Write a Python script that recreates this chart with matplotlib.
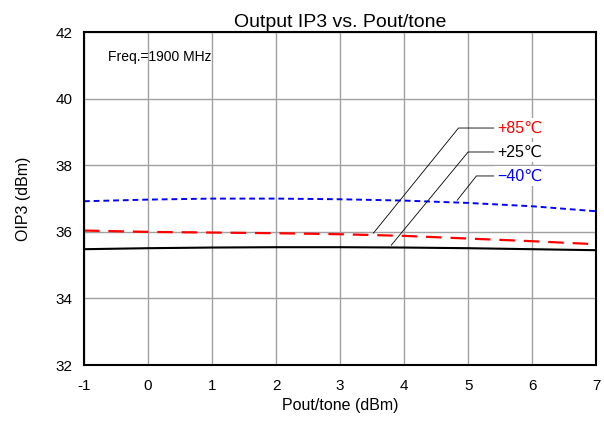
import matplotlib.pyplot as plt
import numpy as np

plt.rcParams['font.family'] = ['Liberation Sans', 'DejaVu Sans']
plt.rcParams['axes.unicode_minus'] = False

pout = [-1, 0, 1, 2, 3, 4, 5, 6, 7]
oip3_m40 = [36.92, 36.97, 37.0, 37.0, 36.98, 36.94, 36.87, 36.77, 36.62]
oip3_p85 = [36.04, 36.0, 35.98, 35.96, 35.93, 35.88, 35.8, 35.72, 35.63]
oip3_p25 = [35.48, 35.51, 35.53, 35.54, 35.54, 35.53, 35.51, 35.48, 35.45]

fig = plt.figure(figsize=(6.04, 4.23), dpi=100)
ax = fig.add_axes([0.139, 0.137, 0.848, 0.787])

ax.plot(pout, oip3_p25, color='black', lw=1.5)
ax.plot(pout, oip3_p85, color='red', lw=1.6, dashes=(7, 4))
ax.plot(pout, oip3_m40, color='blue', lw=1.4, dashes=(3, 2))

ax.set_xlim(-1, 7)
ax.set_ylim(32, 42)
ax.set_xticks(range(-1, 8))
ax.set_yticks(range(32, 43, 2))
ax.grid(True, color='#a0a0a0', lw=1)
ax.tick_params(length=0, labelsize=11)
ax.tick_params(axis='x', pad=10)
ax.tick_params(axis='y', pad=8)
for s in ax.spines.values():
    s.set_linewidth(1.5)

ax.set_title('Output IP3 vs. Pout/tone', fontsize=14, pad=4)
ax.set_xlabel('Pout/tone (dBm)', fontsize=11.5, labelpad=4)
ax.set_ylabel('OIP3 (dBm)', fontsize=11.5, labelpad=18)

ax.text(-0.63, 41.25, 'Freq.=1900 MHz', fontsize=10, va='center')

# annotation leaders
labels = ['+85℃', '+25℃', '−40℃']
colors = ['red', 'black', 'blue']
label_y = [39.12, 38.4, 37.68]
knee_x = [4.85, 5.0, 5.13]
target = [(3.52, 35.96), (3.8, 35.6), (4.83, 36.95)]
for lab, c, ly, kx, (tx, ty) in zip(labels, colors, label_y, knee_x, target):
    ax.plot([tx, kx, 5.4], [ty, ly, ly], color='black', lw=0.6)
    ax.text(5.45, ly, lab, color=c, fontsize=11.5, va='center',
            bbox=dict(facecolor='white', edgecolor='none', pad=1.5))

fig.savefig('out.png', dpi=100)
